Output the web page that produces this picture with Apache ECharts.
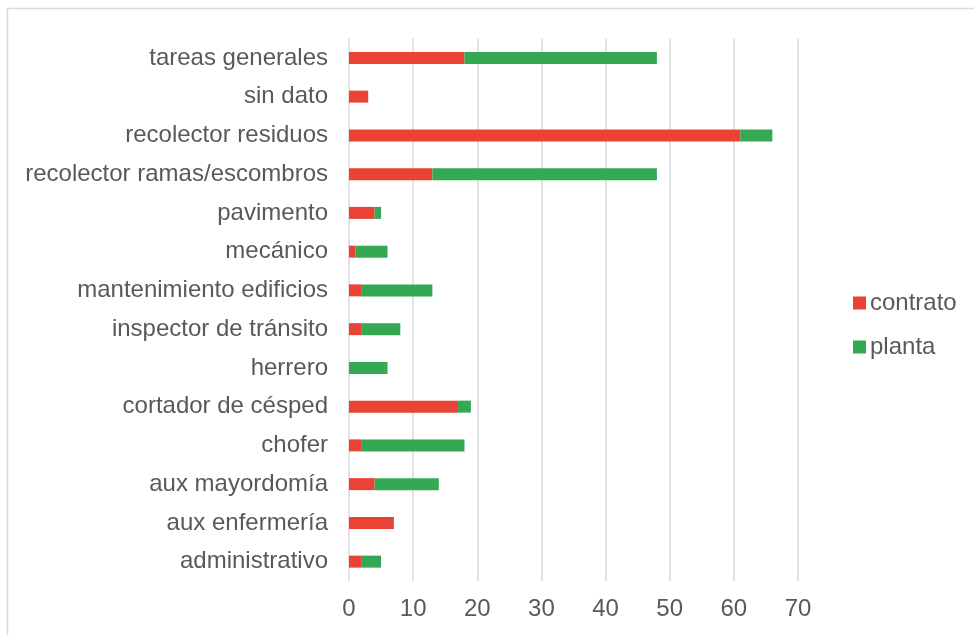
<!DOCTYPE html>
<html>
<head>
<meta charset="utf-8">
<script src="https://cdn.jsdelivr.net/npm/echarts@6/dist/echarts.min.js"></script>
<style>
html,body{margin:0;padding:0;background:#fff;}
#chart{width:974px;height:635px;}
</style>
</head>
<body>
<div id="chart"></div>
<script>
const categories = ["tareas generales","sin dato","recolector residuos","recolector ramas/escombros","pavimento","mecánico","mantenimiento edificios","inspector de tránsito","herrero","cortador de césped","chofer","aux mayordomía","aux enfermería","administrativo"];
const contrato = [18,3,61,13,4,1,2,2,0,17,2,4,7,2];
const planta   = [30,0,5,35,1,5,11,6,6,2,16,10,0,3];
const xTicks = [0,10,20,30,40,50,60,70];

const FONT = 'Liberation Sans, Arial, sans-serif';
const chart = echarts.init(document.getElementById('chart'));
chart.setOption({
  animation: false,
  backgroundColor: '#fff',
  textStyle: {fontFamily: FONT},
  graphic: [{
    type: 'rect',
    shape: {x: 7.5, y: 8.5, width: 1100, height: 800},
    style: {fill: 'none', stroke: '#d9d9d9', lineWidth: 1.5},
    silent: true
  }],
  grid: {left: 349, right: 176, top: 38.5, bottom: 54, containLabel: false},
  legend: {
    orient: 'vertical', left: 848, top: 286,
    itemWidth: 13, itemHeight: 13, itemGap: 20,
    icon: 'rect',
    textStyle: {fontSize: 24, color: '#595959', fontFamily: FONT, padding: [0,0,0,-1]},
    data: ['contrato','planta']
  },
  xAxis: {
    type: 'value', min: xTicks[0], max: xTicks[xTicks.length-1], interval: 10,
    axisLine: {show: false}, axisTick: {show: false},
    splitLine: {lineStyle: {color: '#d9d9d9', width: 1.5}},
    axisLabel: {fontSize: 24, color: '#595959', margin: 16, fontFamily: FONT}
  },
  yAxis: {
    type: 'category', data: categories, inverse: true,
    axisLine: {show: false}, axisTick: {show: false},
    axisLabel: {fontSize: 24, color: '#595959', margin: 21, fontFamily: FONT}
  },
  series: [
    {name: 'contrato', type: 'bar', stack: 'a', data: contrato, barWidth: 12, itemStyle: {color: '#EA4335'}},
    {name: 'planta', type: 'bar', stack: 'a', data: planta, barWidth: 12, itemStyle: {color: '#34A853'}}
  ]
});
</script>
</body>
</html>
